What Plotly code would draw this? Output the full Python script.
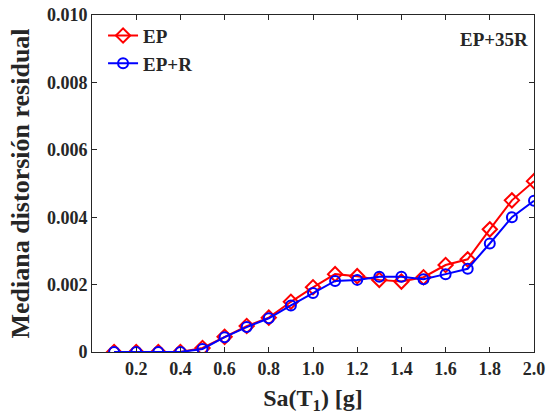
import plotly.graph_objects as go

sa = [0.1, 0.2, 0.3, 0.4, 0.5, 0.6, 0.7, 0.8, 0.9, 1.0,
      1.1, 1.2, 1.3, 1.4, 1.5, 1.6, 1.7, 1.8, 1.9, 2.0]
ep = [0.0, 0.0, 0.0, 0.0, 0.00012, 0.00045, 0.00077, 0.00102, 0.00149, 0.00192,
      0.00231, 0.00225, 0.00214, 0.00209, 0.00222, 0.00258, 0.00275, 0.00364, 0.00450, 0.00507]
ep_r = [0.0, 0.0, 0.0, 0.0, 0.00009, 0.00044, 0.00074, 0.00100, 0.00138, 0.00175,
        0.00211, 0.00214, 0.00223, 0.00223, 0.00216, 0.00231, 0.00247, 0.00322, 0.00400, 0.00449]

x_ticks = [0.2, 0.4, 0.6, 0.8, 1.0, 1.2, 1.4, 1.6, 1.8, 2.0]
x_labels = ["0.2", "0.4", "0.6", "0.8", "1.0", "1.2", "1.4", "1.6", "1.8", "2.0"]
y_ticks = [0, 0.002, 0.004, 0.006, 0.008, 0.010]
y_labels = ["0", "0.002", "0.004", "0.006", "0.008", "0.010"]

FONT = "Liberation Serif"
INK = "#262626"

fig = go.Figure()
fig.add_trace(go.Scatter(
    x=sa, y=ep, name="<b>EP</b>", mode="lines+markers",
    line=dict(color="#ff0000", width=2),
    marker=dict(symbol="diamond-open", size=11, color="#ff0000", line=dict(width=2)),
))
fig.add_trace(go.Scatter(
    x=sa, y=ep_r, name="<b>EP+R</b>", mode="lines+markers",
    line=dict(color="#0000ff", width=2),
    marker=dict(symbol="circle-open", size=10, color="#0000ff", line=dict(width=2)),
))

axis_common = dict(
    showgrid=False, zeroline=False, showline=True, linecolor=INK, linewidth=1,
    mirror="ticks", ticks="inside", ticklen=5, tickcolor=INK,
    tickfont=dict(family=FONT, size=18, color=INK),
    automargin=False,
)

fig.update_layout(
    width=552, height=418,
    margin=dict(l=92, r=18, t=15, b=66),
    paper_bgcolor="white", plot_bgcolor="white",
    font=dict(family=FONT, color=INK),
    showlegend=True,
    legend=dict(
        x=0.025, y=0.995, xanchor="left", yanchor="top",
        bgcolor="rgba(0,0,0,0)", borderwidth=0,
        font=dict(family=FONT, size=19, color=INK),
        tracegroupgap=0, itemwidth=30,
    ),
    xaxis=dict(
        range=[0, 2.0], tickvals=x_ticks, ticktext=[f"<b>{t}</b>" for t in x_labels],
        title=dict(text="<b>Sa(T<sub>1</sub>) [g]</b>", font=dict(family=FONT, size=24, color=INK), standoff=11),
        **axis_common,
    ),
    yaxis=dict(
        range=[0, 0.010], tickvals=y_ticks, ticktext=[f"<b>{t}</b>" for t in y_labels],
        title=dict(text="<b>Mediana distorsión residual</b>", font=dict(family=FONT, size=26, color=INK), standoff=9),
        **axis_common,
    ),
    annotations=[dict(
        x=0.99, y=0.965, xref="paper", yref="paper", xanchor="right", yanchor="top",
        text="<b>EP+35R</b>", showarrow=False,
        font=dict(family=FONT, size=19, color=INK),
    )],
)

fig.write_html("out.html")
